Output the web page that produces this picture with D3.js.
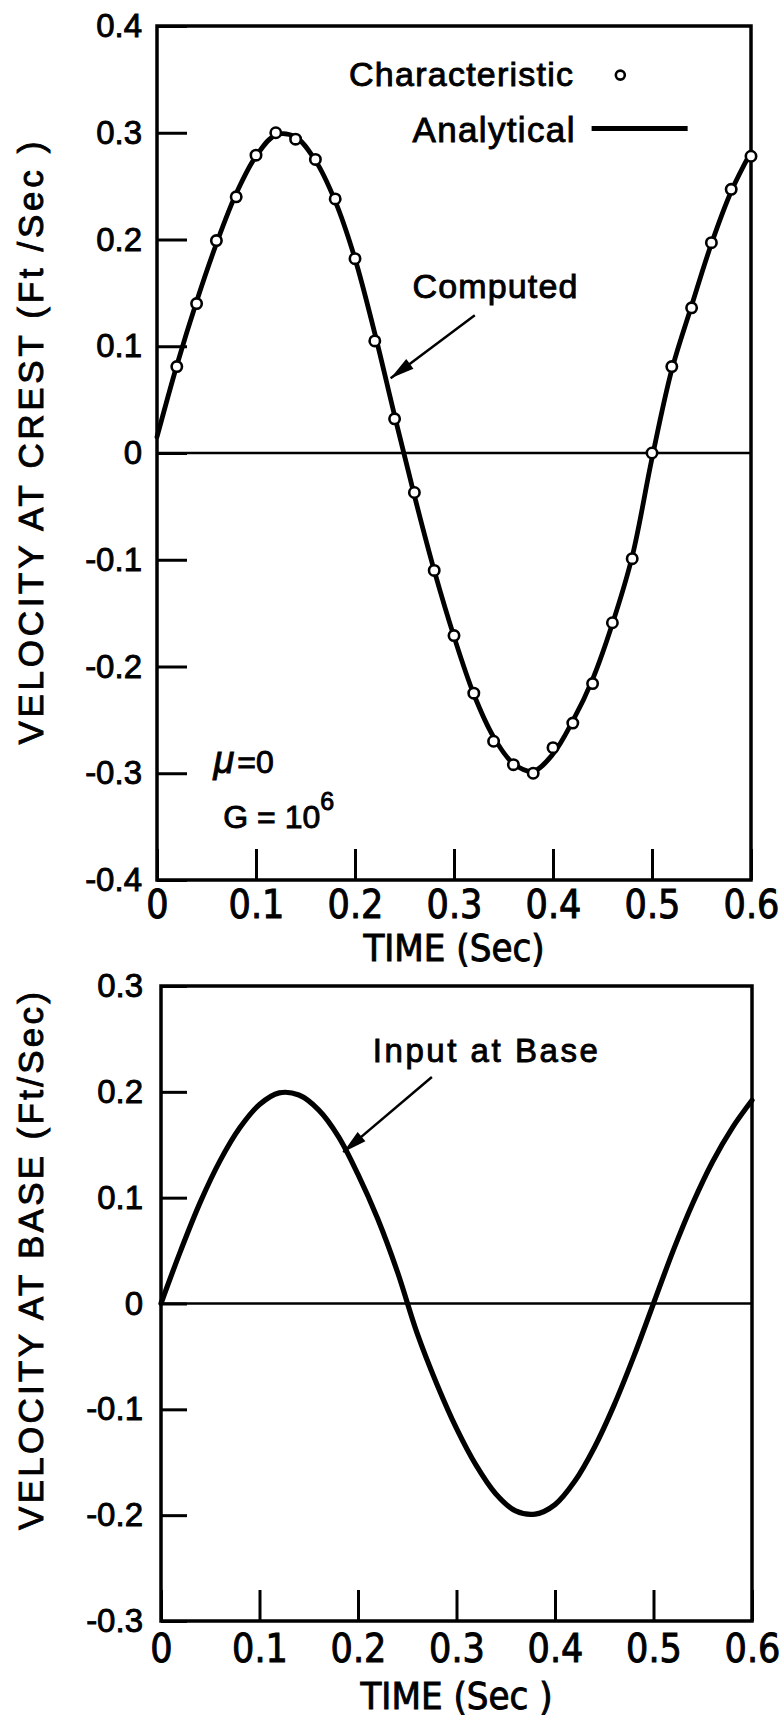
<!DOCTYPE html>
<html><head><meta charset="utf-8">
<script src="https://cdn.jsdelivr.net/npm/d3@7"></script>
<style>html,body{margin:0;padding:0;background:#fff}</style>
</head><body><div id="chart"></div>
<script>
// ---------- data ----------
const timeTicks = [0, 0.1, 0.2, 0.3, 0.4, 0.5, 0.6];
const crestTicks = [0.4, 0.3, 0.2, 0.1, 0, -0.1, -0.2, -0.3, -0.4];
const baseTicks = [0.3, 0.2, 0.1, 0, -0.1, -0.2, -0.3];

// Characteristic (computed) points, velocity at crest
const charTimes = [0.02,0.04,0.06,0.08,0.10,0.12,0.14,0.16,0.18,0.20,0.22,0.24,0.26,0.28,0.30,
                   0.32,0.34,0.36,0.38,0.40,0.42,0.44,0.46,0.48,0.50,0.52,0.54,0.56,0.58,0.60];
const charValues = [0.081,0.140,0.199,0.240,0.279,0.300,0.294,0.275,0.238,0.182,0.105,0.032,-0.037,-0.110,-0.171,
                    -0.225,-0.270,-0.292,-0.300,-0.276,-0.253,-0.216,-0.159,-0.099,0.000,0.081,0.136,0.197,0.247,0.278];

// Analytical solution, velocity at crest
const analyticalTimes = [0,0.02,0.04,0.06,0.08,0.10,0.12,0.14,0.16,0.18,0.20,0.22,0.24,0.26,0.28,0.30,
                         0.32,0.34,0.36,0.38,0.40,0.42,0.44,0.46,0.48,0.50,0.52,0.54,0.56,0.58,0.60];
const analyticalValues = [0.015,0.082,0.142,0.196,0.243,0.278,0.298,0.296,0.274,0.236,0.182,0.112,0.035,-0.040,-0.110,-0.172,
                          -0.226,-0.266,-0.291,-0.298,-0.282,-0.251,-0.212,-0.160,-0.097,-0.005,0.078,0.138,0.196,0.245,0.282];

// Input at base
const baseTimes = [0,0.02,0.04,0.06,0.08,0.10,0.12,0.14,0.16,0.18,0.20,0.22,0.24,0.26,0.28,0.30,
                   0.32,0.34,0.36,0.38,0.40,0.42,0.44,0.46,0.48,0.50,0.52,0.54,0.56,0.58,0.60];
const baseValues = [0.000,0.050,0.096,0.135,0.166,0.188,0.199,0.197,0.183,0.158,0.122,0.080,0.030,-0.028,-0.076,-0.118,
                    -0.153,-0.180,-0.196,-0.199,-0.190,-0.168,-0.136,-0.096,-0.050,0.000,0.050,0.095,0.134,0.166,0.192];

// ---------- drawing ----------
const W = 784, H = 1720;
const svg = d3.select("#chart").append("svg").attr("width", W).attr("height", H)
  .style("background", "#fff");
const FONT = "'Liberation Sans', Arial, sans-serif";
const NARROW = "'Liberation Sans Narrow', 'DejaVu Sans Condensed', 'Liberation Sans', sans-serif";
const TS = 0.9; // text stroke for heavier lettering
const fmt = v => v === 0 ? "0" : v.toFixed(1);

function panel(o) {
  const x = d3.scaleLinear().domain([0, 0.6]).range([o.left, o.right]);
  const y = d3.scaleLinear().domain(o.yDomain).range([o.bottom, o.top]);
  const g = svg.append("g");

  const ya = g.append("g").attr("transform", `translate(${o.left},0)`)
    .call(d3.axisLeft(y).tickValues(o.yTicks).tickFormat(fmt)
      .tickSizeInner(-o.yTickLen).tickSizeOuter(0).tickPadding(o.yPad));
  ya.select(".domain").remove();
  ya.selectAll(".tick line").attr("stroke", "#000").attr("stroke-width", 3);
  ya.selectAll(".tick text").attr("font-family", FONT).attr("font-size", 33)
    .attr("fill", "#000").attr("stroke", "#000").attr("stroke-width", TS);

  const xa = g.append("g").attr("transform", `translate(0,${o.bottom})`)
    .call(d3.axisBottom(x).tickValues(timeTicks).tickFormat(fmt)
      .tickSizeInner(-o.xTickLen).tickSizeOuter(0).tickPadding(o.xPad));
  xa.select(".domain").remove();
  xa.selectAll(".tick line").attr("stroke", "#000").attr("stroke-width", 3);
  xa.selectAll(".tick text").attr("font-family", NARROW).attr("font-size", 39)
    .attr("fill", "#000").attr("stroke", "#000").attr("stroke-width", TS);

  g.append("rect").attr("x", o.left).attr("y", o.top)
    .attr("width", o.right - o.left).attr("height", o.bottom - o.top)
    .attr("fill", "none").attr("stroke", "#000").attr("stroke-width", 3.5);
  g.append("line").attr("x1", x(0)).attr("x2", x(0.6)).attr("y1", y(0)).attr("y2", y(0))
    .attr("stroke", "#000").attr("stroke-width", 2.5);

  g.append("text").attr("x", (o.left + o.right) / 2).attr("y", o.xTitleY)
    .attr("text-anchor", "middle").attr("font-family", NARROW).attr("font-size", 38)
    .attr("stroke", "#000").attr("stroke-width", TS)
    .text(o.xTitle);
  g.append("text").attr("transform", `translate(43,${o.yTitleC}) rotate(-90)`)
    .attr("text-anchor", "middle").attr("font-family", FONT).attr("font-size", 35)
    .attr("stroke", "#000").attr("stroke-width", TS)
    .attr("textLength", o.yTitleLen).attr("lengthAdjust", "spacing")
    .text(o.yTitle);
  return {g, x, y};
}

function arrow(g, x1, y1, x2, y2) {
  g.append("line").attr("x1", x1).attr("y1", y1).attr("x2", x2).attr("y2", y2)
    .attr("stroke", "#000").attr("stroke-width", 2.5);
  const a = Math.atan2(y2 - y1, x2 - x1), L = 24, hw = 6;
  const bx = x2 - L * Math.cos(a), by = y2 - L * Math.sin(a);
  const px = -Math.sin(a) * hw, py = Math.cos(a) * hw;
  g.append("path").attr("d", `M${x2},${y2}L${bx + px},${by + py}L${bx - px},${by - py}Z`)
    .attr("fill", "#000");
}

function label(g, px, py, size, txt, len) {
  const t = g.append("text").attr("x", px).attr("y", py).attr("font-family", FONT)
    .attr("font-size", size).attr("stroke", "#000").attr("stroke-width", TS).text(txt);
  if (len) t.attr("textLength", len).attr("lengthAdjust", "spacing");
  return t;
}

// ---- top panel ----
const topPanel = panel({
  left: 157, right: 751, top: 26, bottom: 880, yDomain: [-0.4, 0.4], yTicks: crestTicks,
  yTickLen: 30, xTickLen: 31, yPad: 15, xPad: 10, xTitleY: 961, xTitle: "TIME (Sec)",
  yTitle: "VELOCITY AT CREST (Ft /Sec )", yTitleC: 443, yTitleLen: 603
});
{
  const {g, x, y} = topPanel;
  const line = d3.line().x(i => x(analyticalTimes[i])).y(i => y(analyticalValues[i]))
    .curve(d3.curveCatmullRom);
  g.append("path").attr("d", line(d3.range(analyticalTimes.length)))
    .attr("fill", "none").attr("stroke", "#000").attr("stroke-width", 4.8)
    .attr("stroke-linejoin", "round").attr("stroke-linecap", "round");
  g.selectAll("circle.pt").data(d3.range(charTimes.length)).join("circle").attr("class", "pt")
    .attr("cx", i => x(charTimes[i])).attr("cy", i => y(charValues[i])).attr("r", 5.2)
    .attr("fill", "#fff").attr("stroke", "#000").attr("stroke-width", 2.6);

  label(g, x(0.194), y(0.344), 34, "Characteristic", 224);
  g.append("circle").attr("cx", x(0.468)).attr("cy", y(0.354)).attr("r", 4.5)
    .attr("fill", "#fff").attr("stroke", "#000").attr("stroke-width", 2.6);
  label(g, x(0.258), y(0.291), 35, "Analytical", 162);
  g.append("line").attr("x1", x(0.439)).attr("x2", x(0.536)).attr("y1", y(0.304)).attr("y2", y(0.304))
    .attr("stroke", "#000").attr("stroke-width", 4.8);

  label(g, x(0.258), y(0.145), 34, "Computed", 165);
  arrow(g, x(0.321), y(0.129), x(0.236), y(0.070));

  const t1 = label(g, x(0.057), y(-0.300), 32, "");
  t1.append("tspan").attr("font-size", 38).attr("font-style", "italic").text("μ");
  t1.append("tspan").attr("dx", 3).text("=0");
  const t2 = label(g, x(0.067), y(-0.351), 32, "");
  t2.append("tspan").text("G = 10");
  t2.append("tspan").attr("dy", -18).attr("font-size", 25).text("6");
}

// ---- bottom panel ----
const botPanel = panel({
  left: 161, right: 752, top: 986, bottom: 1621, yDomain: [-0.3, 0.3], yTicks: baseTicks,
  yTickLen: 26, xTickLen: 31, yPad: 18, xPad: 13, xTitleY: 1709, xTitle: "TIME (Sec )",
  yTitle: "VELOCITY AT BASE (Ft/Sec)", yTitleC: 1261, yTitleLen: 538
});
{
  const {g, x, y} = botPanel;
  const line = d3.line().x(i => x(baseTimes[i])).y(i => y(baseValues[i]))
    .curve(d3.curveCatmullRom);
  g.append("path").attr("d", line(d3.range(baseTimes.length)))
    .attr("fill", "none").attr("stroke", "#000").attr("stroke-width", 5.2)
    .attr("stroke-linejoin", "round").attr("stroke-linecap", "round");
  label(g, x(0.215), y(0.228), 33, "Input at Base", 225);
  arrow(g, x(0.275), y(0.214), x(0.185), y(0.143));
}
</script>
</body></html>
